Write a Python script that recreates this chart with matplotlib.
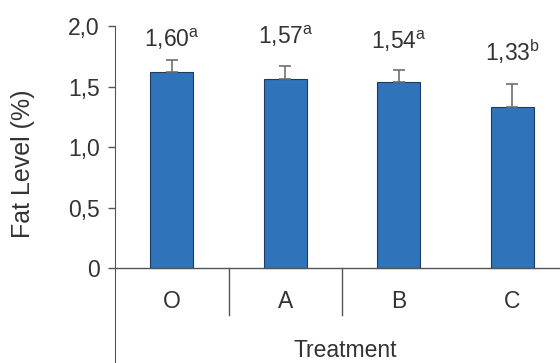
import numpy as np
import matplotlib
matplotlib.use("Agg")
import matplotlib.pyplot as plt

plt.rcParams["font.family"] = ["Liberation Sans", "DejaVu Sans"]
plt.rcParams["mathtext.fontset"] = "custom"
plt.rcParams["mathtext.rm"] = "Liberation Sans"
plt.rcParams["mathtext.default"] = "regular"

treatments = ["O", "A", "B", "C"]
fat_mean = [1.62, 1.56, 1.54, 1.33]
fat_err = [0.10, 0.11, 0.10, 0.19]
value_labels = ["1,60", "1,57", "1,54", "1,33"]
letters = ["a", "a", "a", "b"]
label_y = [1.89, 1.91, 1.87, 1.785]

BAR = "#2f74ba"
TXT = "#333333"
FS = 16.5

fig = plt.figure(figsize=(5.6, 3.63), dpi=100)
ax = fig.add_axes([115 / 560, 0.0, 445 / 560, 1 - 26 / 363])

x = np.arange(len(treatments))
ax.bar(x, fat_mean, width=0.38, color=BAR, edgecolor="#1d3a60", linewidth=0.8,
       yerr=[np.zeros(len(fat_err)), fat_err], capsize=4,
       error_kw=dict(ecolor="#707070", elinewidth=1.2, capthick=1.2))

for xi, lab, let, ly in zip(x, value_labels, letters, label_y):
    ax.text(xi, ly, f"{lab}$^{{{let}}}$", ha="center", va="center",
            fontsize=FS, color=TXT)

# category axis drawn as a table under the zero line
ax.axhline(0, color="#555555", linewidth=1.0)
for sep in x[:2] + 0.5:
    ax.plot([sep, sep], [0, -0.39], color="#555555", linewidth=1.0, clip_on=False)
for xi, t in zip(x, treatments):
    ax.text(xi, -0.28, t, ha="center", va="center", fontsize=FS, color=TXT)
ax.text(1.53, -0.68, "Treatment", ha="center", va="center", fontsize=FS, color=TXT)

ax.set_xlim(-0.5, 3.42)
ax.set_ylim(-0.785, 2.0)
ax.set_yticks([0, 0.5, 1.0, 1.5, 2.0])
ax.set_yticklabels(["0", "0,5", "1,0", "1,5", "2,0"], fontsize=FS, color=TXT)
ax.set_xticks([])
ax.tick_params(axis="y", direction="out", length=5, width=1, color="#555555", pad=6)
for s in ["top", "right", "bottom"]:
    ax.spines[s].set_visible(False)
ax.spines["left"].set_color("#555555")
ax.set_ylabel("Fat Level (%)", fontsize=18, color=TXT)
ax.yaxis.set_label_coords(-0.18, 0.59)

fig.savefig("out.png", dpi=100)
